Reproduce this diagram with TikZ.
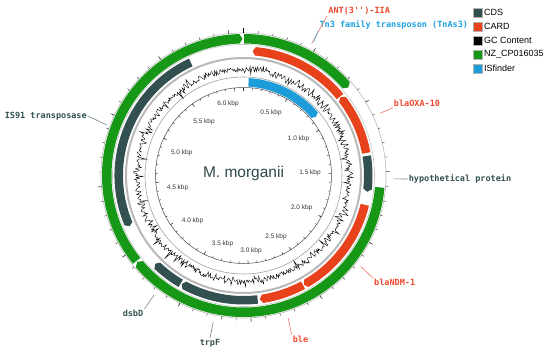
\documentclass[tikz,border=0pt]{standalone}
\usepackage{fontspec}
\setmainfont{Liberation Sans}
\newfontfamily\featfont{DejaVu Sans Mono}
\definecolor{nzgreen}{RGB}{22,152,22}
\definecolor{cardred}{RGB}{232,66,28}
\definecolor{cdsslate}{RGB}{50,80,80}
\definecolor{isblue}{RGB}{28,156,216}
\definecolor{labred}{RGB}{236,72,44}
\definecolor{labblue}{RGB}{30,160,222}
% feature arcs: clockwise degrees from the top, inner and outer radius
% [tip] = length of the arrow point in degrees
\newcommand{\fwdarc}[6][1.3]{%
  \fill[#2] ({90-#3}:#5pt) arc[start angle={90-#3}, end angle={90-#4+#1}, radius=#5pt]
    -- ({90-#4}:{(#5+#6)/2}) -- ({90-#4+#1}:#6pt)
    arc[start angle={90-#4+#1}, end angle={90-#3}, radius=#6pt] -- cycle;}
\newcommand{\revarc}[6][1.3]{%
  \fill[#2] ({90-#3}:{(#5+#6)/2}) -- ({90-#3-#1}:#5pt)
    arc[start angle={90-#3-#1}, end angle={90-#4}, radius=#5pt]
    -- ({90-#4}:#6pt) arc[start angle={90-#4}, end angle={90-#3-#1}, radius=#6pt] -- cycle;}
\begin{document}
\begin{tikzpicture}[x=1pt, y=1pt,
  ringline/.style={gray!55, line width=0.6pt},
  tickline/.style={gray!40!black, line width=0.4pt},
  gcline/.style={black, line width=0.4pt, line join=miter},
  kbplabel/.style={font=\fontsize{6.5}{7}\selectfont, text=black!80},
  featlabel/.style={font=\featfont\bfseries\fontsize{8.5}{10}\selectfont, inner sep=1pt},
  redline/.style={labred!75, line width=0.6pt},
  blueline/.style={labblue!80, line width=0.6pt},
  slateline/.style={cdsslate!70, line width=0.6pt},
  legbox/.style={minimum size=9pt, inner sep=0pt, draw=black!30, line width=0.3pt},
  legtext/.style={font=\fontsize{9}{10}\selectfont, anchor=west, inner sep=1.5pt}]
  \useasboundingbox (-243.5,-178.5) rectangle (306.5,175.5);
  % backbone circles
  \draw[ringline] (0,0) circle[radius=142.5pt];
  \draw[ringline, gray!45] (0,0) circle[radius=131pt];
  \draw[gray!55, line width=2pt] (0,0) circle[radius=117.5pt];
  \draw[ringline, gray!75] (0,0) circle[radius=98.5pt];
  \draw[black!70, line width=0.5pt] (0,0) circle[radius=88pt];
  % outer ticks, every 0.1 kbp
  \foreach \k in {0,...,60}
    \draw[tickline] ({90-5.9*\k}:142.5) -- ({90-5.9*\k}:145);
  \foreach \k in {5,10,...,60}
    \draw[tickline] ({90-5.9*\k}:142.5) -- ({90-5.9*\k}:146.5);
  \draw[black, line width=0.9pt] (90:142.5) -- (90:147.5);
  % inner ticks on the kbp circle
  \foreach \k in {0,...,60}
    \draw[tickline] ({90-5.9*\k}:88) -- ({90-5.9*\k}:86);
  \foreach \k in {0,5,...,60}
    \draw[tickline] ({90-5.9*\k}:88) -- ({90-5.9*\k}:84.5);
  % NZ_CP016035
  \fwdarc{nzgreen}{0.3}{50}{132}{141.5}
  \fwdarc{nzgreen}{95}{230.9}{132}{141.5}
  \fwdarc{nzgreen}{231.4}{359.6}{132}{141.5}
  % CARD
  \revarc{cardred}{4.2}{50.7}{120.5}{129}
  \revarc{cardred}{51.1}{79.6}{120.5}{129}
  \fwdarc{cardred}{103.6}{151.1}{120.5}{129}
  \fwdarc{cardred}{151.5}{172.5}{120.5}{129}
  % CDS
  \fwdarc{cdsslate}{81}{97.5}{120.5}{129}
  \fwdarc{cdsslate}{173.5}{209.6}{120.5}{129}
  \fwdarc{cdsslate}{210.2}{225}{120.5}{129}
  \revarc{cdsslate}{246}{335}{120.5}{129}
  % ISfinder
  \fwdarc{isblue}{3.1}{51}{89}{97.5}
  % GC content
  \pgfmathsetseed{42}
  \draw[gcline] (0:106) \foreach \a [evaluate=\a as \r using {106+2.8*rand+7.5*rand*rand*rand}]
    in {0.5,1.0,...,359.5} {-- (\a:\r)} -- cycle;
  % kbp labels
  \foreach \lab/\x/\y [count=\i] in {0.5/27.5/62.8, 1.0/55/36.2, 1.5/66.5/2.2,
      2.0/58.2/-32.5, 2.5/32.5/-61.2, 3.0/7.5/-75.5, 3.5/-21/-68.8, 4.0/-51/-45.5,
      4.5/-66/-12.8, 5.0/-61.8/22.8, 5.5/-39.5/53.8, 6.0/-15.5/71.5}
    \node[kbplabel] (kbp\i) at (\x,\y) {\lab\ kbp};
  \node[font=\fontsize{15.5}{17}\selectfont, text=cdsslate!90!black] (title) at (0,2.5) {M. morganii};
  % feature labels
  \node[featlabel, text=labred] (ant) at (115.7,164.8) {ANT(3'')-IIA};
  \node[featlabel, text=labblue] (tn3) at (150.3,150.5) {Tn3 family transposon (TnAs3)};
  \node[featlabel, text=labred] (oxa) at (173.5,72.2) {blaOXA-10};
  \node[featlabel, text=cdsslate] (hyp) at (216.5,-3.5) {hypothetical protein};
  \node[featlabel, text=labred] (ndm) at (151.2,-107.2) {blaNDM-1};
  \node[featlabel, text=labred] (ble) at (57,-163.5) {ble};
  \node[featlabel, text=cdsslate] (trpf) at (-33.5,-167.8) {trpF};
  \node[featlabel, text=cdsslate] (dsbd) at (-110.5,-137.8) {dsbD};
  \node[featlabel, text=cdsslate] (is91) at (-197.7,59.5) {IS91 transposase};
  \coordinate (pant) at ({90-27.3}:148.5);
  \coordinate (ptn3) at ({90-27.7}:150.5);
  \coordinate (poxa) at ({90-65.5}:150);
  \coordinate (phyp) at ({90-91.3}:150);
  \coordinate (pndm) at ({90-127.8}:148.5);
  \coordinate (pble) at ({90-162.6}:149.5);
  \coordinate (ptrpf) at ({90-191.7}:149.3);
  \coordinate (pdsbd) at ({90-216.8}:149.3);
  \coordinate (pis91) at ({90-290.3}:146);
  \draw[redline] (pant) -- (ant.south west);
  \draw[blueline] (ptn3) -- (tn3.south west);
  \draw[redline] (poxa) -- (oxa.south west);
  \draw[slateline] (phyp) -- (hyp.west);
  \draw[redline] (pndm) -- (ndm.north west);
  \draw[redline] (pble) -- (ble.north west);
  \draw[slateline] (ptrpf) -- (trpf.north);
  \draw[slateline] (pdsbd) -- (dsbd.north east);
  \draw[slateline] (pis91) -- (is91.east);
  % legend
  \foreach \c/\lab [count=\i] in {cdsslate/CDS, cardred/CARD, black/GC Content,
      nzgreen/NZ\_CP016035, isblue/ISfinder} {
    \node[legbox, fill=\c] (leg\i) at (234.3,{162.8-13.9*(\i-1)}) {};
    \node[legtext] (legtext\i) at (leg\i.east) {\lab};
  }
\end{tikzpicture}
\end{document}
